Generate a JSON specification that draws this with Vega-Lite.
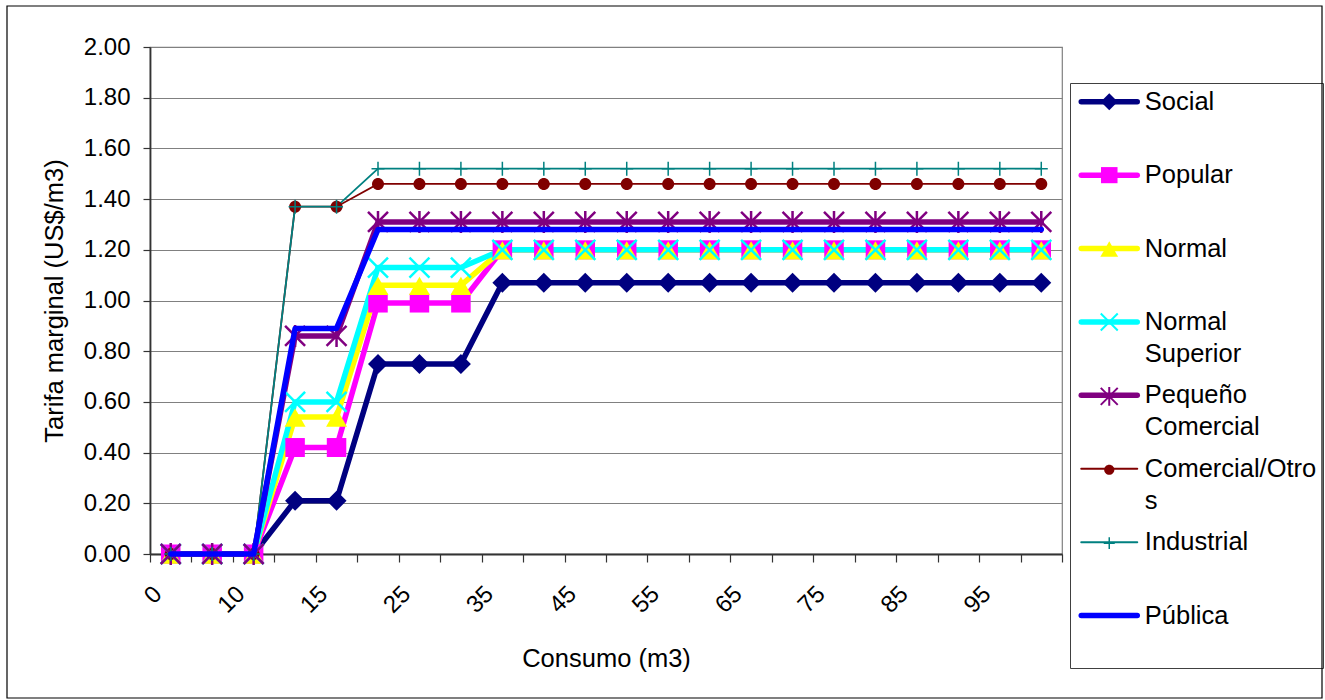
{
  "$schema": "https://vega.github.io/schema/vega-lite/v6.json",
  "width": 912,
  "height": 507,
  "autosize": {"type": "none"},
  "padding": {"left": 150, "top": 47, "right": 263, "bottom": 146},
  "background": "white",
  "config": {
    "font": "Liberation Sans",
    "view": {"stroke": "#808080", "strokeWidth": 1.2}
  },
  "data": {
    "values": [
      {"consumo": 0, "Social": 0, "Popular": 0, "Normal": 0, "Normal Superior": 0, "Pequeño Comercial": 0, "Comercial/Otros": 0, "Industrial": 0, "Pública": 0},
      {"consumo": 5, "Social": 0, "Popular": 0, "Normal": 0, "Normal Superior": 0, "Pequeño Comercial": 0, "Comercial/Otros": 0, "Industrial": 0, "Pública": 0},
      {"consumo": 10, "Social": 0, "Popular": 0, "Normal": 0, "Normal Superior": 0, "Pequeño Comercial": 0, "Comercial/Otros": 0, "Industrial": 0, "Pública": 0},
      {"consumo": 12, "Social": 0.21, "Popular": 0.42, "Normal": 0.54, "Normal Superior": 0.6, "Pequeño Comercial": 0.86, "Comercial/Otros": 1.37, "Industrial": 1.37, "Pública": 0.89},
      {"consumo": 15, "Social": 0.21, "Popular": 0.42, "Normal": 0.54, "Normal Superior": 0.6, "Pequeño Comercial": 0.86, "Comercial/Otros": 1.37, "Industrial": 1.37, "Pública": 0.89},
      {"consumo": 20, "Social": 0.75, "Popular": 0.99, "Normal": 1.06, "Normal Superior": 1.13, "Pequeño Comercial": 1.31, "Comercial/Otros": 1.46, "Industrial": 1.52, "Pública": 1.28},
      {"consumo": 25, "Social": 0.75, "Popular": 0.99, "Normal": 1.06, "Normal Superior": 1.13, "Pequeño Comercial": 1.31, "Comercial/Otros": 1.46, "Industrial": 1.52, "Pública": 1.28},
      {"consumo": 30, "Social": 0.75, "Popular": 0.99, "Normal": 1.06, "Normal Superior": 1.13, "Pequeño Comercial": 1.31, "Comercial/Otros": 1.46, "Industrial": 1.52, "Pública": 1.28},
      {"consumo": 35, "Social": 1.07, "Popular": 1.2, "Normal": 1.2, "Normal Superior": 1.2, "Pequeño Comercial": 1.31, "Comercial/Otros": 1.46, "Industrial": 1.52, "Pública": 1.28},
      {"consumo": 40, "Social": 1.07, "Popular": 1.2, "Normal": 1.2, "Normal Superior": 1.2, "Pequeño Comercial": 1.31, "Comercial/Otros": 1.46, "Industrial": 1.52, "Pública": 1.28},
      {"consumo": 45, "Social": 1.07, "Popular": 1.2, "Normal": 1.2, "Normal Superior": 1.2, "Pequeño Comercial": 1.31, "Comercial/Otros": 1.46, "Industrial": 1.52, "Pública": 1.28},
      {"consumo": 50, "Social": 1.07, "Popular": 1.2, "Normal": 1.2, "Normal Superior": 1.2, "Pequeño Comercial": 1.31, "Comercial/Otros": 1.46, "Industrial": 1.52, "Pública": 1.28},
      {"consumo": 55, "Social": 1.07, "Popular": 1.2, "Normal": 1.2, "Normal Superior": 1.2, "Pequeño Comercial": 1.31, "Comercial/Otros": 1.46, "Industrial": 1.52, "Pública": 1.28},
      {"consumo": 60, "Social": 1.07, "Popular": 1.2, "Normal": 1.2, "Normal Superior": 1.2, "Pequeño Comercial": 1.31, "Comercial/Otros": 1.46, "Industrial": 1.52, "Pública": 1.28},
      {"consumo": 65, "Social": 1.07, "Popular": 1.2, "Normal": 1.2, "Normal Superior": 1.2, "Pequeño Comercial": 1.31, "Comercial/Otros": 1.46, "Industrial": 1.52, "Pública": 1.28},
      {"consumo": 70, "Social": 1.07, "Popular": 1.2, "Normal": 1.2, "Normal Superior": 1.2, "Pequeño Comercial": 1.31, "Comercial/Otros": 1.46, "Industrial": 1.52, "Pública": 1.28},
      {"consumo": 75, "Social": 1.07, "Popular": 1.2, "Normal": 1.2, "Normal Superior": 1.2, "Pequeño Comercial": 1.31, "Comercial/Otros": 1.46, "Industrial": 1.52, "Pública": 1.28},
      {"consumo": 80, "Social": 1.07, "Popular": 1.2, "Normal": 1.2, "Normal Superior": 1.2, "Pequeño Comercial": 1.31, "Comercial/Otros": 1.46, "Industrial": 1.52, "Pública": 1.28},
      {"consumo": 85, "Social": 1.07, "Popular": 1.2, "Normal": 1.2, "Normal Superior": 1.2, "Pequeño Comercial": 1.31, "Comercial/Otros": 1.46, "Industrial": 1.52, "Pública": 1.28},
      {"consumo": 90, "Social": 1.07, "Popular": 1.2, "Normal": 1.2, "Normal Superior": 1.2, "Pequeño Comercial": 1.31, "Comercial/Otros": 1.46, "Industrial": 1.52, "Pública": 1.28},
      {"consumo": 95, "Social": 1.07, "Popular": 1.2, "Normal": 1.2, "Normal Superior": 1.2, "Pequeño Comercial": 1.31, "Comercial/Otros": 1.46, "Industrial": 1.52, "Pública": 1.28},
      {"consumo": 100, "Social": 1.07, "Popular": 1.2, "Normal": 1.2, "Normal Superior": 1.2, "Pequeño Comercial": 1.31, "Comercial/Otros": 1.46, "Industrial": 1.52, "Pública": 1.28}
    ]
  },
  "transform": [
    {"fold": ["Social", "Popular", "Normal", "Normal Superior", "Pequeño Comercial", "Comercial/Otros", "Industrial", "Pública"], "as": ["serie", "tarifa"]}
  ],
  "encoding": {
    "x": {
      "field": "consumo",
      "type": "ordinal",
      "scale": {"paddingInner": 0, "paddingOuter": 0},
      "axis": {
        "title": "Consumo (m3)",
        "labelExpr": "indexof([0,10,15,25,35,45,55,65,75,85,95], datum.value) >= 0 ? datum.label : ''",
        "labelAngle": -45,
        "labelAlign": "right",
        "labelBaseline": "middle",
        "labelOffset": -13,
        "labelPadding": 28,
        "labelFontSize": 24,
        "labelColor": "#000000",
        "labelOverlap": false,
        "tickBand": "extent",
        "tickSize": 8,
        "tickColor": "#333333",
        "tickWidth": 1.2,
        "domainColor": "#333333",
        "domainWidth": 1.8,
        "grid": false,
        "titleFontSize": 25.5,
        "titleFontWeight": "normal",
        "titleColor": "#000000",
        "titleX": 456,
        "titleY": 112,
        "titleAlign": "center",
        "titleBaseline": "alphabetic"
      }
    },
    "y": {
      "field": "tarifa",
      "type": "quantitative",
      "scale": {"domain": [0, 2], "nice": false},
      "axis": {
        "title": "Tarifa marginal (US$/m3)",
        "values": [0, 0.2, 0.4, 0.6, 0.8, 1, 1.2, 1.4, 1.6, 1.8, 2],
        "format": ".2f",
        "grid": true,
        "gridColor": "#808080",
        "gridWidth": 1.2,
        "domainColor": "#333333",
        "domainWidth": 1.8,
        "tickColor": "#333333",
        "tickSize": 7,
        "tickWidth": 1.2,
        "labelFontSize": 24,
        "labelColor": "#000000",
        "labelPadding": 13,
        "titleFontSize": 25.5,
        "titleFontWeight": "normal",
        "titleColor": "#000000",
        "titleX": -88,
        "titleY": 253.5,
        "titleAngle": 270,
        "titleAlign": "center",
        "titleBaseline": "alphabetic"
      }
    }
  },
  "layer": [
    {
      "transform": [{"filter": {"field": "serie", "oneOf": ["Social", "Popular", "Normal", "Normal Superior", "Pequeño Comercial"]}}],
      "mark": {"type": "line", "strokeWidth": 5.5, "strokeJoin": "round", "strokeCap": "round"},
      "encoding": {
        "color": {
          "field": "serie",
          "type": "nominal",
          "scale": {
            "domain": ["Social", "Popular", "Normal", "Normal Superior", "Pequeño Comercial", "Comercial/Otros", "Industrial", "Pública"],
            "range": ["#000080", "#FF00FF", "#FFFF00", "#00FFFF", "#800080", "#800000", "#008080", "#0000FF"]
          },
          "legend": {
            "title": null,
            "orient": "none",
            "legendX": 920,
            "legendY": 36,
            "direction": "vertical",
            "padding": 6,
            "strokeColor": "#404040",
            "fillColor": "white",
            "symbolType": "M-5.6,0H5.6",
            "symbolSize": 100,
            "symbolOffset": 20.5,
            "labelOffset": 22.8,
            "labelFontSize": 25.5,
            "labelColor": "#000000",
            "labelLimit": 400,
            "rowPadding": 14.4,
            "labelExpr": "datum.label == 'Normal Superior' ? ['Normal','Superior'] : datum.label == 'Pequeño Comercial' ? ['Pequeño','Comercial'] : datum.label == 'Comercial/Otros' ? ['Comercial/Otro','s'] : [datum.label, '']",
            "encode": {
              "symbols": {
                "update": {
                  "stroke": {"signal": "scale('color', datum.value)"},
                  "fill": {"value": "transparent"},
                  "strokeWidth": {"signal": "(indexof(['Comercial/Otros','Industrial'], datum.value) >= 0 ? 2 : 5.5)"},
                  "strokeCap": {"value": "round"},
                  "opacity": {"value": 1}
                }
              },
              "labels": {"update": {"lineHeight": {"value": 32}}}
            }
          }
        }
      }
    },
    {
      "transform": [{"filter": {"field": "serie", "oneOf": ["Comercial/Otros", "Industrial"]}}],
      "mark": {"type": "line", "strokeWidth": 1.8},
      "encoding": {
        "color": {
          "field": "serie",
          "type": "nominal",
          "scale": {
            "domain": ["Social", "Popular", "Normal", "Normal Superior", "Pequeño Comercial", "Comercial/Otros", "Industrial", "Pública"],
            "range": ["#000080", "#FF00FF", "#FFFF00", "#00FFFF", "#800080", "#800000", "#008080", "#0000FF"]
          },
          "legend": null
        }
      }
    },
    {
      "transform": [{"filter": {"field": "serie", "oneOf": ["Social", "Popular", "Normal", "Comercial/Otros"]}}],
      "mark": {"type": "point", "filled": true, "size": 100, "opacity": 1, "strokeWidth": 0},
      "encoding": {
        "color": {
          "field": "serie",
          "type": "nominal",
          "scale": {
            "domain": ["Social", "Popular", "Normal", "Normal Superior", "Pequeño Comercial", "Comercial/Otros", "Industrial", "Pública"],
            "range": ["#000080", "#FF00FF", "#FFFF00", "#00FFFF", "#800080", "#800000", "#008080", "#0000FF"]
          },
          "legend": null
        },
        "shape": {
          "field": "serie",
          "type": "nominal",
          "scale": {
            "domain": ["Social", "Popular", "Normal", "Normal Superior", "Pequeño Comercial", "Comercial/Otros", "Industrial"],
            "range": [
              "M0,-2L2,0L0,2L-2,0Z",
              "M-1.95,-1.9H1.95V1.9H-1.95Z",
              "M0,-1.7L2.1,1.95L-2.1,1.95Z",
              "M-2,-2L2,2M-2,2L2,-2",
              "M-2,-2L2,2M-2,2L2,-2M0,-2.2V2.2",
              "M-1.2,0A1.2,1.2,0,1,0,1.2,0A1.2,1.2,0,1,0,-1.2,0Z",
              "M-1.3,0H1.3M0,-1.4V1.4"
            ]
          },
          "legend": {
            "title": null,
            "orient": "none",
            "legendX": 920,
            "legendY": 36,
            "direction": "vertical",
            "padding": 6,
            "symbolSize": 72,
            "symbolOffset": 20.5,
            "symbolFillColor": {"expr": "indexof(['Social','Popular','Normal','Comercial/Otros'], datum.value) >= 0 ? scale('color', datum.value) : 'transparent'"},
            "symbolStrokeColor": {"expr": "scale('color', datum.value)"},
            "symbolStrokeWidth": {"expr": "(indexof(['Normal Superior','Pequeño Comercial'], datum.value) >= 0 ? 2 : datum.value === 'Industrial' ? 1.5 : 0)"},
            "symbolOpacity": 1,
            "labelOffset": 22.8,
            "labelFontSize": 25.5,
            "labelOpacity": 0,
            "labelLimit": 400,
            "rowPadding": 19.4,
            "labelExpr": "['', '']"
          }
        }
      }
    },
    {
      "transform": [{"filter": {"field": "serie", "oneOf": ["Normal Superior", "Pequeño Comercial"]}}],
      "mark": {"type": "point", "filled": false, "size": 100, "opacity": 1, "strokeWidth": 2.5},
      "encoding": {
        "color": {
          "field": "serie",
          "type": "nominal",
          "scale": {
            "domain": ["Social", "Popular", "Normal", "Normal Superior", "Pequeño Comercial", "Comercial/Otros", "Industrial", "Pública"],
            "range": ["#000080", "#FF00FF", "#FFFF00", "#00FFFF", "#800080", "#800000", "#008080", "#0000FF"]
          },
          "legend": null
        },
        "shape": {"field": "serie", "type": "nominal", "legend": null}
      }
    },
    {
      "transform": [{"filter": {"field": "serie", "equal": "Industrial"}}],
      "mark": {"type": "point", "filled": false, "size": 100, "opacity": 1, "strokeWidth": 1.5},
      "encoding": {
        "color": {
          "field": "serie",
          "type": "nominal",
          "scale": {
            "domain": ["Social", "Popular", "Normal", "Normal Superior", "Pequeño Comercial", "Comercial/Otros", "Industrial", "Pública"],
            "range": ["#000080", "#FF00FF", "#FFFF00", "#00FFFF", "#800080", "#800000", "#008080", "#0000FF"]
          },
          "legend": null
        },
        "shape": {"field": "serie", "type": "nominal", "legend": null}
      }
    },
    {
      "transform": [{"filter": {"field": "serie", "equal": "Pública"}}],
      "mark": {"type": "line", "strokeWidth": 5.5, "strokeJoin": "round", "strokeCap": "round"},
      "encoding": {
        "color": {
          "field": "serie",
          "type": "nominal",
          "scale": {
            "domain": ["Social", "Popular", "Normal", "Normal Superior", "Pequeño Comercial", "Comercial/Otros", "Industrial", "Pública"],
            "range": ["#000080", "#FF00FF", "#FFFF00", "#00FFFF", "#800080", "#800000", "#008080", "#0000FF"]
          },
          "legend": null
        }
      }
    },
    {
      "mark": {"type": "point", "opacity": 0, "size": 1},
      "encoding": {
        "fill": {
          "field": "tarifa",
          "type": "quantitative",
          "scale": {"range": ["rgba(0,0,0,0)", "rgba(0,0,0,0)"]},
          "legend": {
            "type": "gradient",
            "title": null,
            "orient": "none",
            "legendX": -143,
            "legendY": -41,
            "direction": "horizontal",
            "padding": 0,
            "gradientLength": 1315,
            "gradientThickness": 692,
            "gradientStrokeColor": "#000000",
            "gradientStrokeWidth": 1.2,
            "labelOpacity": 0,
            "labelFontSize": 1
          }
        }
      }
    }
  ]
}
